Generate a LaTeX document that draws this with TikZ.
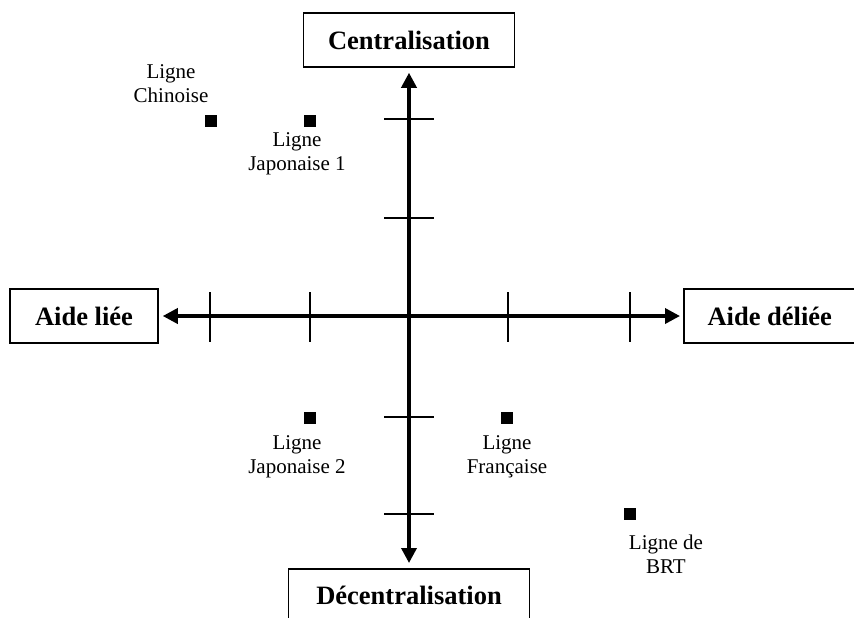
\documentclass[tikz,border=0pt]{standalone}
\usepackage{fontspec}
\setmainfont{Liberation Serif}
\usetikzlibrary{arrows.meta}
\begin{document}
\begin{tikzpicture}[
x=0.5pt, y=-0.5pt,
boite/.style={rectangle, draw, line width=0.75pt, minimum height=27pt, inner sep=0pt, font=\fontsize{13.25}{15}\selectfont\bfseries},
axe/.style={line width=1.75pt, {Triangle[length=7.5pt,width=7.5pt]}-{Triangle[length=7.5pt,width=7.5pt]}},
graduation/.style={line width=0.7pt},
point/.style={rectangle, fill, minimum size=6pt, inner sep=0pt},
ligne/.style={align=center, inner sep=0pt, font=\fontsize{10.5}{12}\selectfont},
]
\useasboundingbox (0,0) rectangle (854,617);
\node[boite, minimum width=105.5pt] (centr) at (409,40) {Centralisation};
\node[boite, minimum width=120.5pt, anchor=north] (decentr) at (409,568) {Décentralisation};
\node[boite, minimum width=74pt] (liee) at (84,316) {Aide liée};
\node[boite, minimum width=86pt, anchor=west] (deliee) at (683,316) {Aide déliée};
\draw[axe, shorten <=2pt, shorten >=1.5pt] (liee) -- (deliee);
\draw[axe, shorten <=2.5pt, shorten >=2.5pt] (centr) -- (decentr);
\foreach \x in {210,310,508,630}
  \draw[graduation] (\x,292) -- (\x,342);
\foreach \y in {119,218,417,514}
  \draw[graduation] (384,\y) -- (434,\y);
\node[point] (chinoise) at (211,121) {};
\node[ligne, anchor=base] (lchinoise) at (171,102) {Ligne\\Chinoise};
\node[point] (japon1) at (309.5,121) {};
\node[ligne, anchor=base] (ljapon1) at (297,170) {Ligne\\Japonaise 1};
\node[point] (japon2) at (309.5,417.5) {};
\node[ligne, anchor=base] (ljapon2) at (297,473) {Ligne\\Japonaise 2};
\node[point] (france) at (507,417.5) {};
\node[ligne, anchor=base] (lfrance) at (507,473) {Ligne\\Française};
\node[point] (brt) at (630,514) {};
\node[ligne, anchor=base] (lbrt) at (666,573) {Ligne de\\BRT};
\end{tikzpicture}
\end{document}
